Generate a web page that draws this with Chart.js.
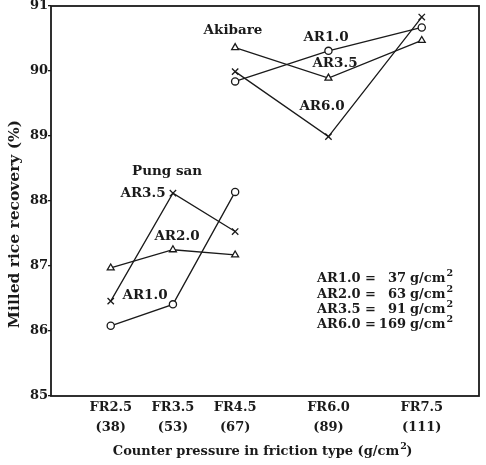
<!DOCTYPE html>
<html>
<head>
<meta charset="utf-8">
<script src="https://cdn.jsdelivr.net/npm/chart.js@4"></script>
<style>
  html, body { margin: 0; padding: 0; background: #fff; }
  canvas { display: block; }
</style>
</head>
<body>
<canvas id="c" width="486" height="465"></canvas>
<script>
// Friction-type counter pressure settings (x axis)
const frValues = [2.5, 3.5, 4.5, 6.0, 7.5];
const frLabels = ['FR2.5', 'FR3.5', 'FR4.5', 'FR6.0', 'FR7.5'];
const pressureLabels = ['(38)', '(53)', '(67)', '(89)', '(111)'];
const yTicks = [85, 86, 87, 88, 89, 90, 91];

// Pung san, milled rice recovery (%)
const pungsanFR = [2.5, 3.5, 4.5];
const pungsanAR10 = [86.08, 86.41, 88.14];
const pungsanAR20 = [86.97, 87.25, 87.17];
const pungsanAR35 = [86.46, 88.12, 87.53];

// Akibare, milled rice recovery (%)
const akibareFR = [4.5, 6.0, 7.5];
const akibareAR10 = [89.84, 90.31, 90.67];
const akibareAR35 = [90.36, 89.89, 90.47];
const akibareAR60 = [89.99, 88.99, 90.83];

// Abrasive roll pressure key
const arNames = ['AR1.0', 'AR2.0', 'AR3.5', 'AR6.0'];
const arPressures = [37, 63, 91, 169];

const FONT = "'DejaVu Serif', serif";
const INK = '#1a1a1a';

function pts(xs, ys) { return xs.map((x, i) => ({ x, y: ys[i] })); }

function series(label, xs, ys, style, radius) {
  return {
    label,
    data: pts(xs, ys),
    borderColor: INK,
    borderWidth: 1.3,
    backgroundColor: '#fff',
    pointStyle: style,
    pointRadius: radius,
    pointHoverRadius: radius,
    pointBorderColor: INK,
    pointBackgroundColor: '#fff',
    pointBorderWidth: 1.3,
    fill: false,
    tension: 0
  };
}

// Series name tags placed in data units
const tags = [
  { text: 'Akibare',  x: 4.466, y: 90.63 },
  { text: 'AR1.0',    x: 5.96,  y: 90.51 },
  { text: 'AR3.5',    x: 6.105, y: 90.12 },
  { text: 'AR6.0',    x: 5.896, y: 89.46 },
  { text: 'Pung san', x: 3.405, y: 88.46 },
  { text: 'AR3.5',    x: 3.019, y: 88.12 },
  { text: 'AR2.0',    x: 3.565, y: 87.45 },
  { text: 'AR1.0',    x: 3.051, y: 86.54 }
];

const decor = {
  id: 'decor',
  afterDraw(chart) {
    const ctx = chart.ctx;
    const a = chart.chartArea;
    const xs = chart.scales.x, ys = chart.scales.y;
    ctx.save();
    // plot frame
    ctx.strokeStyle = INK;
    ctx.lineWidth = 1.8;
    ctx.strokeRect(a.left, a.top, a.right - a.left, a.bottom - a.top);

    // series tags
    ctx.fillStyle = INK;
    ctx.font = 'bold 13.5px ' + FONT;
    ctx.textAlign = 'center';
    ctx.textBaseline = 'middle';
    tags.forEach(t => ctx.fillText(t.text, xs.getPixelForValue(t.x), ys.getPixelForValue(t.y)));

    // pressure key
    const keyLeft = a.left + 266;
    const keyTop = a.top + 273;
    arNames.forEach((n, i) => {
      const yy = keyTop + i * 15.3;
      ctx.font = 'bold 13px ' + FONT;
      ctx.textAlign = 'left';
      ctx.fillText(n + ' =', keyLeft, yy);
      ctx.textAlign = 'right';
      ctx.fillText(String(arPressures[i]), keyLeft + 89, yy);
      ctx.textAlign = 'left';
      ctx.fillText('g/cm', keyLeft + 93, yy);
      const w = ctx.measureText('g/cm').width;
      ctx.font = 'bold 9.5px ' + FONT;
      ctx.fillText('2', keyLeft + 94 + w, yy - 5);
    });

    // axis titles
    ctx.textAlign = 'center';
    ctx.font = 'bold 13px ' + FONT;
    ctx.fillText('Counter pressure in friction type (g/cm', 256, 452);
    const tw = ctx.measureText('Counter pressure in friction type (g/cm').width;
    const tx = 256 + tw / 2;
    ctx.textAlign = 'left';
    ctx.font = 'bold 9.5px ' + FONT;
    ctx.fillText('2', tx + 1, 447);
    ctx.font = 'bold 13px ' + FONT;
    ctx.fillText(')', tx + 7, 452);

    ctx.textAlign = 'center';
    ctx.font = 'bold 15.5px ' + FONT;
    ctx.translate(15, 224);
    ctx.rotate(-Math.PI / 2);
    ctx.fillText('Milled rice recovery (%)', 0, 0);
    ctx.restore();
  }
};

new Chart(document.getElementById('c'), {
  type: 'line',
  data: {
    datasets: [
      series('Pung san AR1.0', pungsanFR, pungsanAR10, 'circle', 3.6),
      series('Pung san AR2.0', pungsanFR, pungsanAR20, 'triangle', 4),
      series('Pung san AR3.5', pungsanFR, pungsanAR35, 'crossRot', 4.5),
      series('Akibare AR1.0', akibareFR, akibareAR10, 'circle', 3.6),
      series('Akibare AR3.5', akibareFR, akibareAR35, 'triangle', 4),
      series('Akibare AR6.0', akibareFR, akibareAR60, 'crossRot', 4.5)
    ]
  },
  options: {
    responsive: false,
    animation: false,
    devicePixelRatio: 1,
    layout: { padding: { left: 0, top: 6, right: 7, bottom: 0 } },
    plugins: { legend: { display: false }, tooltip: { enabled: false } },
    scales: {
      x: {
        type: 'linear',
        min: 1.54,
        max: 8.42,
        afterBuildTicks(scale) { scale.ticks = frValues.map(v => ({ value: v })); },
        afterFit(scale) { scale.height = 69; scale.paddingLeft = 0; scale.paddingRight = 0; },
        grid: { display: false, drawTicks: false },
        border: { display: false },
        ticks: {
          color: INK,
          padding: 2,
          maxRotation: 0,
          autoSkip: false,
          font: { family: FONT, size: 13, weight: 'bold', lineHeight: 1.54 },
          callback(v) {
            const i = frValues.indexOf(v);
            return i < 0 ? '' : [frLabels[i], pressureLabels[i]];
          }
        }
      },
      y: {
        min: 85,
        max: 91,
        afterBuildTicks(scale) { scale.ticks = yTicks.map(v => ({ value: v })); },
        afterFit(scale) { scale.width = 51; scale.paddingTop = 0; scale.paddingBottom = 0; },
        grid: { drawOnChartArea: false, drawTicks: true, tickLength: 3, color: INK, lineWidth: 1.3 },
        border: { display: false },
        ticks: {
          color: INK,
          padding: 0,
          font: { family: FONT, size: 13, weight: 'bold' }
        }
      }
    }
  },
  plugins: [decor]
});
</script>
</body>
</html>
